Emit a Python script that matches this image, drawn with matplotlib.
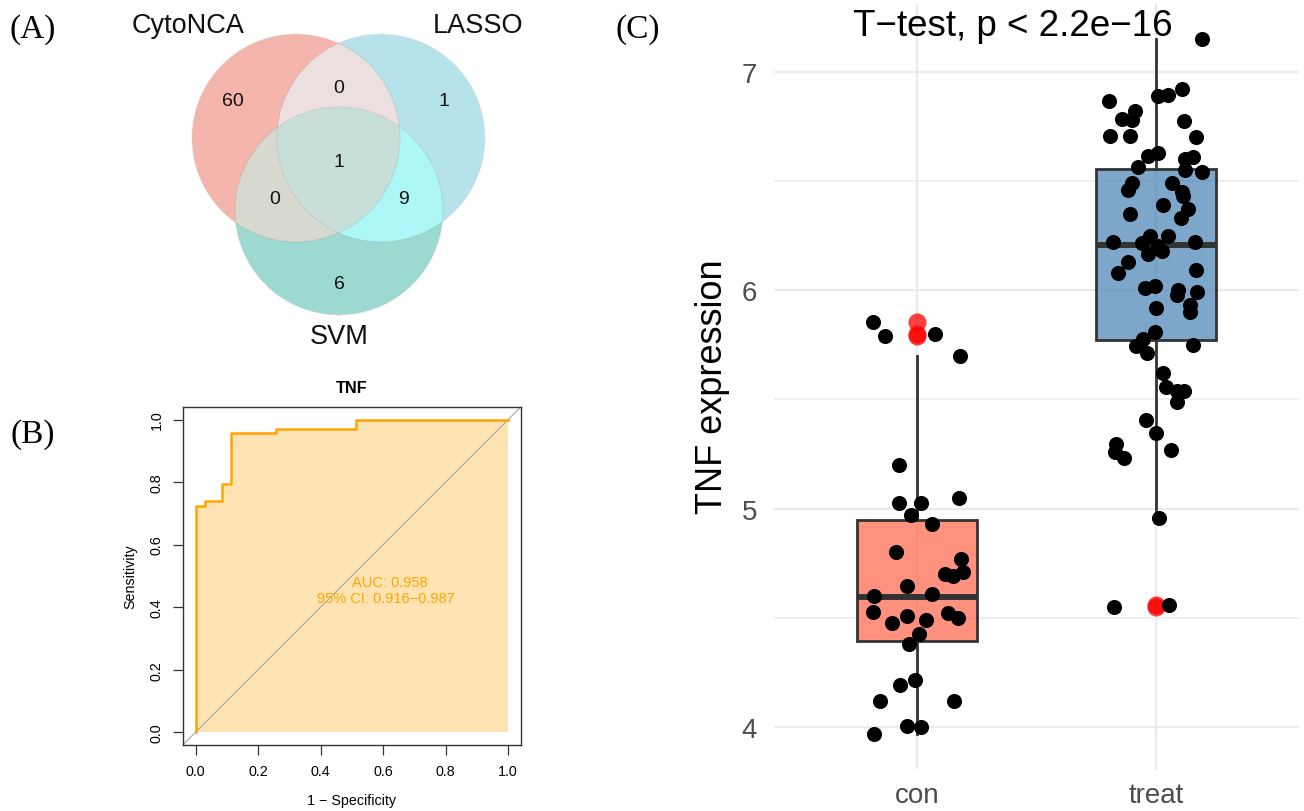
import numpy as np
import matplotlib
matplotlib.use("Agg")
import matplotlib.pyplot as plt
from matplotlib.colors import to_rgb

plt.rcParams['font.family'] = ['Liberation Sans', 'DejaVu Sans']

# ---------------- data ----------------
venn_sets = ["CytoNCA", "LASSO", "SVM"]
# region counts: C only, L only, S only, C&L, C&S, L&S, C&L&S
venn_counts = [60, 1, 6, 0, 0, 9, 1]

roc_fpr = [0.0, 0.0, 0.0288, 0.0853, 0.113, 0.257, 0.513, 1.0]
roc_tpr = [0.0, 0.723, 0.739, 0.795, 0.956, 0.969, 1.0, 1.0]
auc_text = "AUC: 0.958"
ci_text = "95% CI: 0.916\u22120.987"
roc_title = "TNF"

groups = ["con", "treat"]
con_values = [5.855, 5.79, 5.80, 5.70, 5.20, 5.025, 5.025, 5.05, 4.97, 4.93, 4.80,
              4.77, 4.70, 4.69, 4.71, 4.645, 4.61, 4.60, 4.525, 4.52, 4.50, 4.51,
              4.49, 4.475, 4.425, 4.38, 4.19, 4.215, 4.12, 4.12, 4.005, 4.0, 3.97]
con_jitter = [-0.184, -0.134, 0.075, 0.180, -0.075, -0.075, 0.017, 0.176, -0.025, 0.063, -0.088,
              0.184, 0.117, 0.151, 0.192, -0.042, 0.063, -0.180, -0.184, 0.130, 0.172, -0.042,
              0.038, -0.105, 0.008, -0.033, -0.071, -0.008, -0.155, 0.155, -0.042, 0.017, -0.180]
treat_values = [7.149, 6.865, 6.89, 6.895, 6.92, 6.82, 6.785, 6.78, 6.705, 6.705, 6.775, 6.70,
                6.627, 6.613, 6.563, 6.60, 6.61, 6.55, 6.54, 6.49, 6.46, 6.49, 6.45, 6.43,
                6.37, 6.39, 6.35, 6.33, 6.22, 6.215, 6.25, 6.25, 6.20, 6.165, 6.18, 6.22,
                6.13, 6.08, 6.09, 6.01, 6.02, 6.0, 5.98, 5.99, 5.93, 5.90, 5.92, 5.81,
                5.775, 5.745, 5.71, 5.75, 5.62, 5.555, 5.54, 5.54, 5.49, 5.405, 5.345,
                5.295, 5.26, 5.23, 5.27, 4.957, 4.55, 4.56]
treat_jitter = [0.192, -0.197, 0.008, 0.050, 0.109, -0.088, -0.142, -0.100, -0.192, -0.109, 0.117, 0.167,
                0.008, -0.033, -0.075, 0.121, 0.155, 0.121, 0.192, -0.100, -0.117, 0.067, 0.109, 0.113,
                0.134, 0.029, -0.109, 0.105, -0.180, -0.059, -0.025, 0.050, 0.008, -0.033, 0.025, 0.163,
                -0.117, -0.159, 0.167, -0.046, -0.004, 0.092, 0.088, 0.172, 0.142, 0.142, 0.0, -0.004,
                -0.054, -0.084, -0.038, 0.155, 0.029, 0.042, 0.088, 0.117, 0.088, -0.042, 0.0,
                -0.167, -0.172, -0.134, 0.063, 0.013, -0.176, 0.054]
# box statistics: q1, median, q3, lower whisker, upper whisker
con_box = [4.394, 4.595, 4.947, 3.97, 5.70]
treat_box = [5.77, 6.206, 6.554, 4.957, 7.149]
con_outliers = [5.855, 5.80, 5.79]
treat_outliers = [4.56, 4.55]
box_title = "T\u2212test, p < 2.2e\u221216"
ylabel_c = "TNF expression"

# ---------------- figure ----------------
W, H = 1304, 812
fig = plt.figure(figsize=(W / 100, H / 100), dpi=100)


def px_axes(l, t, r, b):
    return fig.add_axes([l / W, 1 - b / H, (r - l) / W, (b - t) / H])


def px_text(x, y, s, **kw):
    fig.text(x / W, 1 - y / H, s, **kw)


# ---------------- (A) Venn ----------------
ax = px_axes(0, 0, 560, 370)
ax.set_xlim(0, 560)
ax.set_ylim(370, 0)
ax.axis('off')
centers = [(296, 139), (381, 139), (339, 212)]
rad = 104
xs = np.linspace(0, 560, 1680)
ys = np.linspace(0, 370, 1110)
X, Y = np.meshgrid(xs, ys)
inC = (X - centers[0][0]) ** 2 + (Y - centers[0][1]) ** 2 <= rad ** 2
inL = (X - centers[1][0]) ** 2 + (Y - centers[1][1]) ** 2 <= rad ** 2
inS = (X - centers[2][0]) ** 2 + (Y - centers[2][1]) ** 2 <= rad ** 2
img = np.ones((len(ys), len(xs), 4))
img[..., 3] = 0
region_cols = {
    (1, 0, 0): "#F4B5AC", (0, 1, 0): "#B7E3EA", (0, 0, 1): "#9BDAD1",
    (1, 1, 0): "#ECE0E0", (1, 0, 1): "#D9DACE", (0, 1, 1): "#ADF7F7",
    (1, 1, 1): "#C8DEDA",
}
for key, col in region_cols.items():
    m = (inC == bool(key[0])) & (inL == bool(key[1])) & (inS == bool(key[2]))
    img[m, :3] = to_rgb(col)
    img[m, 3] = 1
ax.imshow(img, extent=(0, 560, 370, 0), interpolation='antialiased', zorder=1)
for c in centers:
    ax.add_patch(plt.Circle(c, rad, fill=False, lw=0.7, ec=(0, 0, 0, 0.08), zorder=2))

count_pos = [(232.7, 101.7), (444.3, 101.7), (339, 285), (339, 88.3), (274.3, 200),
             (403.3, 200), (339, 162.7)]
for (x, y), n in zip(count_pos, venn_counts):
    ax.text(x, y, str(n), ha='center', va='center', fontsize=14, color='#111111', zorder=3)
label_pos = [(188, 26), (478, 26), (339, 337)]
for (x, y), s in zip(label_pos, venn_sets):
    ax.text(x, y, s, ha='center', va='center', fontsize=19.5, color='#111111', zorder=3)

# ---------------- (B) ROC ----------------
axb = px_axes(183, 408, 520.7, 745.7)
axb.set_xlim(-0.04, 1.04)
axb.set_ylim(-0.04, 1.04)
orange = "#FFA500"
axb.fill_between(roc_fpr, roc_tpr, step='post', color=orange, alpha=0.3, lw=0, zorder=1)
axb.plot([-0.04, 1.04], [-0.04, 1.04], color='#A8A8A8', lw=0.8, zorder=2)
axb.step(roc_fpr, roc_tpr, where='post', color=orange, lw=1.8, zorder=3)
axb.text(0.62, 0.48, auc_text, color=orange, ha='center', va='center', fontsize=10.5)
axb.text(0.61, 0.43, ci_text, color=orange, ha='center', va='center', fontsize=10.5)
ticks = [0.0, 0.2, 0.4, 0.6, 0.8, 1.0]
axb.set_xticks(ticks)
axb.set_xticklabels([f"{t:.1f}" for t in ticks])
axb.set_yticks(ticks)
axb.set_yticklabels([f"{t:.1f}" for t in ticks], rotation=90, va='center')
axb.tick_params(direction='out', length=7, width=0.9, color='#333333', labelsize=10.3,
                pad=7)
for sp in axb.spines.values():
    sp.set_color('#333333')
    sp.set_linewidth(1.0)
axb.text(0.5, -0.163, "1 \u2212 Specificity", transform=axb.transAxes, ha='center',
         va='center', fontsize=10.3)
axb.text(-0.157, 0.5, "Sensitivity", transform=axb.transAxes, ha='center', va='center',
         rotation=90, fontsize=10.3)
px_text(351.7, 389, roc_title, ha='center', va='center', fontsize=11.7, fontweight='bold')

# ---------------- (C) boxplot ----------------
axc = px_axes(773.6, 5, 1299.4, 769.5)
axc.set_xlim(0.4, 2.6)
axc.set_ylim(3.81, 7.31)
for sp in axc.spines.values():
    sp.set_visible(False)
grid_col = "#EBEBEB"
for v in [4, 5, 6, 7]:
    axc.axhline(v, color=grid_col, lw=1.6, zorder=0)
for v in [4.5, 5.5, 6.5]:
    axc.axhline(v, color=grid_col, lw=1.1, zorder=0)
for v in [1, 2]:
    axc.axvline(v, color=grid_col, lw=1.6, zorder=0)

stats = []
for b, fl in [(con_box, con_outliers), (treat_box, treat_outliers)]:
    stats.append(dict(q1=b[0], med=b[1], q3=b[2], whislo=b[3], whishi=b[4], fliers=fl))
bp = axc.bxp(stats, positions=[1, 2], widths=0.5, patch_artist=True, showcaps=False,
             boxprops=dict(edgecolor='#333333', linewidth=2.0),
             whiskerprops=dict(color='#333333', linewidth=2.0),
             medianprops=dict(color='#333333', linewidth=4.3, solid_capstyle='butt'),
             flierprops=dict(marker='o', markerfacecolor='#FF0000', markeredgecolor='none',
                             alpha=0.75, markersize=13))
fills = [(1.0, 0.388, 0.278, 0.7), (0.275, 0.510, 0.706, 0.7)]
for patch, fc in zip(bp['boxes'], fills):
    patch.set_facecolor(fc)
    patch.set_zorder(2)

axc.scatter(1 + np.array(con_jitter), con_values, s=118, color='black', lw=0, zorder=4)
axc.scatter(2 + np.array(treat_jitter), treat_values, s=118, color='black', lw=0, zorder=4)

axc.set_xticks([1, 2])
axc.set_xticklabels(groups)
axc.set_yticks([4, 5, 6, 7])
axc.set_yticklabels(["4", "5", "6", "7"])
axc.tick_params(length=0, labelsize=20, labelcolor='#4D4D4D', pad=12)
axc.tick_params(axis='x', pad=10)
axc.text(1.40, 7.17, box_title, ha='center', va='baseline', fontsize=26.5)
px_text(712, 387, ylabel_c, rotation=90, ha='center', va='center', fontsize=26)

# panel labels
px_text(33, 30, "(A)", family='Liberation Serif', fontsize=24, ha='center', va='center')
px_text(33, 435, "(B)", family='Liberation Serif', fontsize=24, ha='center', va='center')
px_text(638, 30, "(C)", family='Liberation Serif', fontsize=24, ha='center', va='center')

fig.savefig("out.png", dpi=100)
